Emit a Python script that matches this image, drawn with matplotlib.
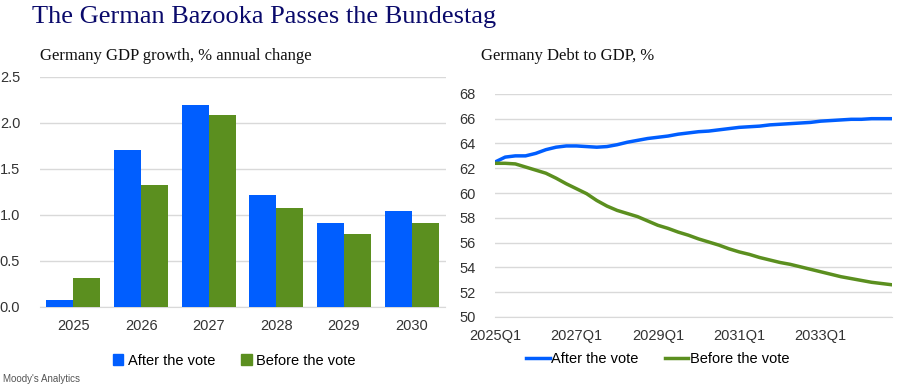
import numpy as np
import matplotlib.pyplot as plt
from matplotlib.lines import Line2D
from matplotlib.patches import Patch

# ---- data ----
years = ["2025", "2026", "2027", "2028", "2029", "2030"]
gdp_after = [0.08, 1.70, 2.19, 1.22, 0.91, 1.04]
gdp_before = [0.31, 1.32, 2.08, 1.08, 0.79, 0.91]

quarters = [f"{y}Q{q}" for y in range(2025, 2035) for q in range(1, 5)]
debt_after = [62.5, 62.9, 63.0, 63.0, 63.2, 63.5, 63.7, 63.8,
              63.8, 63.75, 63.7, 63.75, 63.9, 64.1, 64.25, 64.4,
              64.5, 64.6, 64.75, 64.85, 64.95, 65.0, 65.1, 65.2,
              65.3, 65.35, 65.4, 65.5, 65.55, 65.6, 65.65, 65.7,
              65.8, 65.85, 65.9, 65.95, 65.95, 66.0, 66.0, 66.0]
debt_before = [62.4, 62.4, 62.35, 62.1, 61.85, 61.6, 61.2, 60.75,
               60.35, 59.95, 59.4, 58.95, 58.6, 58.35, 58.1, 57.75,
               57.4, 57.15, 56.85, 56.6, 56.3, 56.05, 55.8, 55.5,
               55.25, 55.05, 54.8, 54.6, 54.4, 54.25, 54.05, 53.85,
               53.65, 53.45, 53.25, 53.1, 52.95, 52.8, 52.7, 52.6]

BLUE = "#005eff"
GREEN = "#5b8f1f"
GRID = "#d9d9d9"
TICK = "#333333"

plt.rcParams['font.family'] = ['Liberation Sans', 'DejaVu Sans']

fig = plt.figure(figsize=(9, 3.88), dpi=100)

fig.text(0.035, 0.955, "The German Bazooka Passes the Bundestag", family="Liberation Serif",
         fontsize=19, color="#0a0a6b", va="center", ha="left")
fig.text(0.044, 0.855, "Germany GDP growth, % annual change", family="Liberation Serif",
         fontsize=12, color="#111111", va="center", ha="left")
fig.text(0.534, 0.855, "Germany Debt to GDP, %", family="Liberation Serif",
         fontsize=12, color="#111111", va="center", ha="left")
fig.text(0.003, 0.023, "Moody's Analytics", fontsize=7, color="#555555", va="center")

# ---- left: bar chart ----
ax1 = fig.add_axes([0.044, 0.209, 0.451, 0.593])
x = np.arange(len(years))
w = 0.4
ax1.bar(x - w / 2, gdp_after, w, color=BLUE, zorder=3)
ax1.bar(x + w / 2, gdp_before, w, color=GREEN, zorder=3)
ax1.set_xlim(-0.5, len(years) - 0.5)
ax1.set_ylim(0, 2.5)
ax1.set_yticks(np.arange(0, 2.51, 0.5))
ax1.set_yticklabels([f"{v:.1f}" for v in np.arange(0, 2.51, 0.5)])
ax1.set_xticks(x)
ax1.set_xticklabels(years)
ax1.grid(axis="y", color=GRID, lw=1, zorder=0)
for s in ["top", "right", "left"]:
    ax1.spines[s].set_visible(False)
ax1.spines["bottom"].set_color(GRID)
ax1.tick_params(length=0, labelsize=10.5, colors=TICK)
ax1.tick_params(axis="x", pad=9)
ax1.tick_params(axis="y", pad=14)
ax1.legend([Patch(color=BLUE), Patch(color=GREEN)], ["After the vote", "Before the vote"],
           loc="center", bbox_to_anchor=(0.48, -0.233), ncol=2, frameon=False,
           fontsize=10.5, handlelength=0.7, handleheight=0.7, handletextpad=0.3,
           columnspacing=1.8)

# ---- right: line chart ----
ax2 = fig.add_axes([0.55, 0.183, 0.441, 0.575])
xq = np.arange(len(quarters))
ax2.plot(xq, debt_after, color=BLUE, lw=2.5, zorder=3)
ax2.plot(xq, debt_before, color=GREEN, lw=2.5, zorder=3)
ax2.set_xlim(0, len(quarters) - 1)
ax2.set_ylim(50, 68)
ax2.set_yticks(range(50, 69, 2))
ax2.set_xticks(xq[::8])
ax2.set_xticklabels(quarters[::8])
ax2.grid(axis="y", color=GRID, lw=1, zorder=0)
for s in ["top", "right", "left"]:
    ax2.spines[s].set_visible(False)
ax2.spines["bottom"].set_color(GRID)
ax2.tick_params(length=0, labelsize=10.5, colors=TICK)
ax2.tick_params(axis="x", pad=9)
ax2.tick_params(axis="y", pad=14)
ax2.legend([Line2D([], [], color=BLUE, lw=2.5), Line2D([], [], color=GREEN, lw=2.5)],
           ["After the vote", "Before the vote"],
           loc="center", bbox_to_anchor=(0.41, -0.19), ncol=2, frameon=False,
           fontsize=10.5, handlelength=1.6, handletextpad=0.1, columnspacing=1.8)

fig.savefig("out.png", dpi=100, facecolor="white")
